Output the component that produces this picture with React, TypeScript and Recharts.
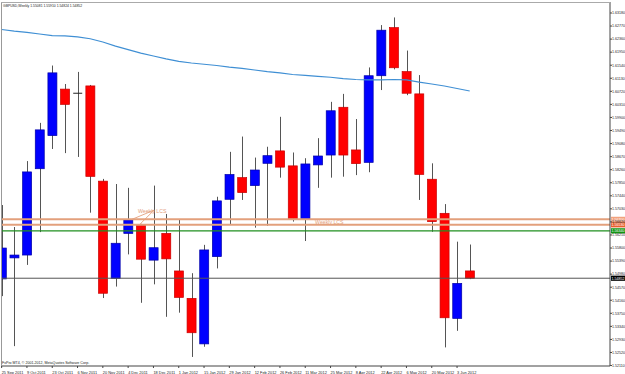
import React from "react";
import {
  Bar,
  ComposedChart,
  Line,
  ReferenceDot,
  ReferenceLine,
  XAxis,
  YAxis,
} from "recharts";

// GBPUSD weekly, one entry per week starting 25 Sep 2011
const dateLabels = [
  "25 Sep 2011", "9 Oct 2011", "23 Oct 2011", "6 Nov 2011", "20 Nov 2011",
  "4 Dec 2011", "18 Dec 2011", "1 Jan 2012", "15 Jan 2012", "29 Jan 2012",
  "12 Feb 2012", "26 Feb 2012", "11 Mar 2012", "25 Mar 2012", "8 Apr 2012",
  "22 Apr 2012", "6 May 2012", "20 May 2012", "3 Jun 2012",
];

const opens = [
  1.5483, 1.5549, 1.5558, 1.5829, 1.5933, 1.6079, 1.6066, 1.6089, 1.579, 1.5485,
  1.5626, 1.5652, 1.5542, 1.5626, 1.5508, 1.5422, 1.5279, 1.5553, 1.5733, 1.5801,
  1.5776, 1.5846, 1.5885, 1.5838, 1.5671, 1.5841, 1.5872, 1.6022, 1.5888, 1.5849,
  1.6121, 1.6272, 1.6134, 1.6064, 1.5796, 1.5689, 1.5359, 1.55081,
];
const highs = [
  1.5715, 1.5646, 1.5853, 1.5973, 1.6153, 1.6095, 1.6133, 1.6092, 1.5797, 1.5781,
  1.5769, 1.5656, 1.5776, 1.5687, 1.5671, 1.5501, 1.559, 1.5741, 1.5882, 1.593,
  1.5864, 1.5898, 1.5992, 1.588, 1.5862, 1.5925, 1.6039, 1.6064, 1.5985, 1.6147,
  1.628, 1.6304, 1.62, 1.6123, 1.5846, 1.5718, 1.56, 1.5591,
];
const lows = [
  1.5429, 1.5272, 1.5527, 1.563, 1.5891, 1.5878, 1.5866, 1.5691, 1.5423, 1.5459,
  1.556, 1.5408, 1.5466, 1.5364, 1.5377, 1.5238, 1.527, 1.5516, 1.5654, 1.5731,
  1.5644, 1.565, 1.5801, 1.5663, 1.5602, 1.5769, 1.5801, 1.5804, 1.5809, 1.5818,
  1.6076, 1.6141, 1.606, 1.5731, 1.5631, 1.5268, 1.532, 1.54824,
];
const closes = [
  1.558, 1.5558, 1.5819, 1.5951, 1.613, 1.6031, 1.6063, 1.5805, 1.5438, 1.5595,
  1.5668, 1.5545, 1.5581, 1.5546, 1.5425, 1.5314, 1.5574, 1.5728, 1.5811, 1.5754,
  1.5825, 1.587, 1.5834, 1.5672, 1.5844, 1.5869, 1.6011, 1.5872, 1.5845, 1.6121,
  1.6264, 1.6146, 1.6066, 1.5811, 1.5663, 1.5361, 1.5469, 1.54852,
];
const maValues = [
  1.6266, 1.6261, 1.6257, 1.6252, 1.6247, 1.6246, 1.6243, 1.6237, 1.6227, 1.6214,
  1.6203, 1.6192, 1.6183, 1.6174, 1.6166, 1.6161, 1.6157, 1.6153, 1.6148, 1.6144,
  1.6139, 1.6134, 1.613, 1.6125, 1.6122, 1.6119, 1.6116, 1.6112, 1.6109, 1.6108,
  1.6108, 1.6109, 1.6108, 1.6101, 1.6095, 1.6089, 1.6081, 1.6073,
];

const priceTicks = [
  1.6318, 1.6277, 1.6236, 1.6195, 1.6154, 1.6113, 1.6072, 1.6031, 1.599, 1.5949,
  1.5908, 1.5867, 1.5826, 1.5785, 1.5744, 1.5703, 1.5662, 1.5621, 1.558, 1.5539,
  1.5498, 1.5457, 1.5416, 1.5375, 1.5334, 1.5293, 1.5252, 1.5211,
];

// horizontal levels drawn on the chart
const lcsLevels = [1.567, 1.5653];
const supportLevel = 1.5634;
const bidLevel = 1.54852;
const lcsNoteA = { x: 10.78, y: 1.569 };
const lcsNoteB = { x: 24.78, y: 1.5655 };
const lcsArrows = [
  [{ x: 10.3, y: 1.567 }, { x: 12.05, y: 1.5699 }],
  [{ x: 10.94, y: 1.5655 }, { x: 12.05, y: 1.5699 }],
];

const data = opens.map((open, i) => ({
  idx: i,
  open,
  high: highs[i],
  low: lows[i],
  close: closes[i],
  range: [lows[i], highs[i]],
  ma: maValues[i],
}));

const FONT = "'Liberation Sans', Arial, sans-serif";
const LCS_COLOR = "#e3a07c";

function Candle(props: any) {
  const { x, y, width, height, payload } = props;
  if (height == null || !payload) return null;
  const { open, close, high, low } = payload;
  const k = height / (high - low);
  const yOf = (v: number) => y + (high - v) * k;
  const cx = Math.round(x + width / 2) + 0.5;
  const top = yOf(Math.max(open, close));
  const bottom = yOf(Math.min(open, close));
  const up = close > open;
  const doji = bottom - top < 1.2;
  return (
    <g>
      <line x1={cx} x2={cx} y1={y} y2={y + height} stroke="#555" strokeWidth={1} />
      {doji ? (
        <line x1={x} x2={x + width} y1={top} y2={top} stroke="#222" strokeWidth={1} />
      ) : (
        <rect
          x={x}
          y={top}
          width={width}
          height={bottom - top}
          fill={up ? "#0000ff" : "#ff0000"}
          stroke={up ? "#0000a8" : "#c80000"}
          strokeWidth={0.7}
        />
      )}
    </g>
  );
}

function DateTick(props: any) {
  const { x, y, payload } = props;
  return (
    <text x={x} y={y + 4} fontSize={3.9} fontFamily={FONT} fill="#222">
      {dateLabels[payload.value / 2]}
    </text>
  );
}

function PriceTick(props: any) {
  const { x, y, payload } = props;
  return (
    <text x={x} y={y + 1.3} fontSize={3.6} fontFamily={FONT} fill="#222">
      {payload.value.toFixed(5)}
    </text>
  );
}

function PriceTag(props: any) {
  const { viewBox, text, fill, color } = props;
  if (!viewBox) return null;
  const x = viewBox.x + viewBox.width;
  const y = viewBox.y;
  return (
    <g>
      <rect x={x + 1} y={y - 2.6} width={16} height={5.2} fill={fill} />
      <text x={x + 1.5} y={y + 1.3} fontSize={3.6} fontFamily={FONT} fill={color}>
        {text}
      </text>
    </g>
  );
}

function LcsNote(props: any) {
  return (
    <text x={props.cx} y={props.cy} fontSize={5.2} fontFamily={FONT} fill={LCS_COLOR}>
      Weekly LCS
    </text>
  );
}

export default function App() {
  return (
    <div style={{ position: "absolute", left: 0, top: 0, width: 625, height: 374, background: "#fff" }}>
      <ComposedChart
        width={625}
        height={374}
        data={data}
        margin={{ top: 2, right: 0, bottom: 0, left: 1 }}
      >
        <XAxis
          dataKey="idx"
          type="number"
          domain={[-0.05, 48.09]}
          allowDataOverflow
          ticks={dateLabels.map((_, i) => i * 2)}
          interval={0}
          tick={<DateTick />}
          tickSize={2}
          height={8}
          axisLine={{ stroke: "#444" }}
          tickLine={{ stroke: "#444" }}
        />
        <YAxis
          orientation="right"
          type="number"
          domain={[1.52096, 1.63525]}
          allowDataOverflow
          ticks={priceTicks}
          interval={0}
          tick={<PriceTick />}
          tickSize={2}
          tickMargin={0}
          width={15}
          axisLine={{ stroke: "#444" }}
          tickLine={{ stroke: "#444" }}
        />
        <Line
          dataKey="ma"
          type="linear"
          stroke="#3f8fd4"
          strokeWidth={1.1}
          dot={false}
          isAnimationActive={false}
        />
        <ReferenceLine
          y={lcsLevels[0]}
          stroke={LCS_COLOR}
          strokeWidth={2}
          label={<PriceTag text="1.56700" fill="#f2a27e" color="#fff" />}
        />
        <ReferenceLine
          y={lcsLevels[1]}
          stroke={LCS_COLOR}
          strokeWidth={2}
          label={<PriceTag text="1.56530" fill="#e8602c" color="#fff" />}
        />
        <ReferenceLine
          y={supportLevel}
          stroke="#1f8f1f"
          strokeWidth={1.2}
          label={<PriceTag text="1.56340" fill="#139413" color="#fff" />}
        />
        <ReferenceLine
          y={bidLevel}
          stroke="#555"
          strokeWidth={1}
          label={<PriceTag text="1.54852" fill="#000" color="#fff" />}
        />
        {lcsArrows.map((seg, i) => (
          <ReferenceLine key={`lcs-${i}`} segment={seg} stroke={LCS_COLOR} strokeWidth={0.9} />
        ))}
        <ReferenceDot x={lcsNoteA.x} y={lcsNoteA.y} r={0} shape={<LcsNote />} />
        <ReferenceDot x={lcsNoteB.x} y={lcsNoteB.y} r={0} shape={<LcsNote />} />
        <Bar dataKey="range" barSize={9} shape={<Candle />} isAnimationActive={false} />
      </ComposedChart>
      <svg
        width={625}
        height={374}
        style={{ position: "absolute", left: 0, top: 0, pointerEvents: "none" }}
      >
        <line x1={1.5} x2={1.5} y1={2} y2={366} stroke="#999" />
        <line x1={1} x2={610} y1={2.5} y2={2.5} stroke="#aaa" />
        <text x={3} y={7} fontSize={3.4} fontFamily={FONT} fill="#222">
          GBPUSD,Weekly  1.55081 1.55910 1.54824 1.54852
        </text>
        <text x={2} y={364} fontSize={3.6} fontFamily={FONT} fill="#222">
          FxPro MT4, © 2001-2012, MetaQuotes Software Corp.
        </text>
      </svg>
    </div>
  );
}
